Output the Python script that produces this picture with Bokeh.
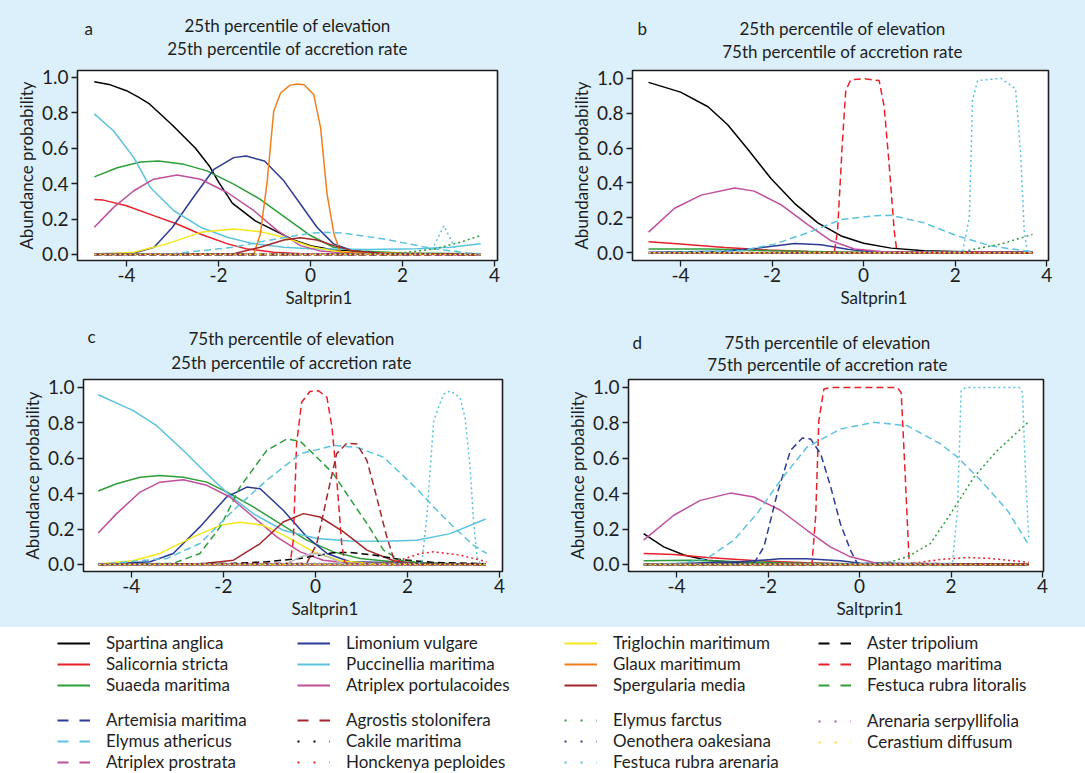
from bokeh.plotting import figure
from bokeh.models import Range1d, FixedTicker, Legend, LegendItem, NumeralTickFormatter, Title
from bokeh.layouts import column, row
from bokeh.core.properties import value
from bokeh.embed import file_html
from bokeh.resources import INLINE

# ---------------- species (draw order), colours and line types ----------------
SPECIES = ["Spartina anglica", "Salicornia stricta", "Suaeda maritima", "Limonium vulgare",
           "Puccinellia maritima", "Atriplex portulacoides", "Triglochin maritimum",
           "Glaux maritimum", "Spergularia media", "Aster tripolium", "Plantago maritima",
           "Festuca rubra litoralis", "Artemisia maritima", "Elymus athericus",
           "Atriplex prostrata", "Agrostis stolonifera", "Cakile maritima",
           "Honckenya peploides", "Elymus farctus", "Oenothera oakesiana",
           "Festuca rubra arenaria", "Arenaria serpyllifolia", "Cerastium diffusum"]
COLORS = ["#000000", "#e8202a", "#2e9e3a", "#2c3b96", "#5bc3dd", "#c04f9c", "#f5e61a",
          "#f07f1e", "#a3262a",
          "#000000", "#e8202a", "#2e9e3a", "#2c3b96", "#5bc3dd", "#c04f9c", "#a3262a",
          "#000000", "#e8202a", "#2e9e3a", "#2c3b96", "#5bc3dd", "#c04f9c", "#f5e61a"]
STYLES = ["solid"] * 9 + ["dashed"] * 7 + ["dotted"] * 7

# ---------------- panel data (Saltprin1, abundance probability) ----------------
BASE_X = [-4.7, 3.7]
BASE_Y = [0.0, 0.0]

PANEL_A = {
    "Spartina anglica": ([-4.7, -4.35, -4.0, -3.75, -3.5, -3.0, -2.5, -2.2, -2.0, -1.7, -1.2, -0.7, -0.35, 0.0, 0.5, 1.2, 2.0, 3.7],
                         [0.976, 0.958, 0.925, 0.89, 0.85, 0.73, 0.60, 0.50, 0.41, 0.29, 0.19, 0.125, 0.08, 0.05, 0.026, 0.013, 0.006, 0.002]),
    "Salicornia stricta": ([-4.7, -4.5, -4.0, -3.5, -2.9, -2.4, -1.8, -1.4, -0.8, -0.2, 1.0, 3.7],
                           [0.31, 0.307, 0.275, 0.228, 0.172, 0.116, 0.06, 0.032, 0.013, 0.004, 0.001, 0.0]),
    "Suaeda maritima": ([-4.7, -4.2, -3.7, -3.3, -2.75, -2.25, -1.67, -1.1, -0.5, 0.0, 0.5, 1.1, 2.0, 3.7],
                        [0.438, 0.49, 0.522, 0.528, 0.509, 0.472, 0.397, 0.313, 0.2, 0.107, 0.041, 0.019, 0.009, 0.004]),
    "Limonium vulgare": ([-4.7, -3.85, -3.4, -3.0, -2.55, -2.1, -1.67, -1.4, -1.0, -0.58, -0.22, 0.14, 0.5, 0.95, 1.6, 3.7],
                         [0.004, 0.007, 0.041, 0.154, 0.322, 0.481, 0.547, 0.556, 0.528, 0.416, 0.285, 0.154, 0.06, 0.019, 0.006, 0.0]),
    "Puccinellia maritima": ([-4.7, -4.28, -3.84, -3.48, -2.97, -2.39, -1.81, -1.23, -0.58, 0.0, 1.23, 2.32, 3.04, 3.7],
                             [0.794, 0.697, 0.547, 0.378, 0.247, 0.154, 0.097, 0.06, 0.041, 0.032, 0.028, 0.032, 0.041, 0.06]),
    "Atriplex portulacoides": ([-4.7, -4.28, -3.84, -3.41, -2.9, -2.39, -1.81, -1.23, -0.72, -0.22, 0.22, 0.87, 3.7],
                               [0.154, 0.266, 0.36, 0.425, 0.449, 0.425, 0.35, 0.247, 0.135, 0.05, 0.019, 0.006, 0.0]),
    "Triglochin maritimum": ([-4.7, -3.84, -3.12, -2.39, -1.67, -1.09, -0.58, 0.0, 0.51, 1.23, 3.7],
                             [0.0, 0.013, 0.06, 0.125, 0.144, 0.129, 0.097, 0.045, 0.019, 0.006, 0.0]),
    "Glaux maritimum": ([-4.7, -1.23, -1.09, -0.94, -0.8, -0.65, -0.45, -0.3, -0.14, 0.07, 0.22, 0.36, 0.51, 0.65, 3.7],
                        [0.0, 0.004, 0.116, 0.416, 0.809, 0.912, 0.955, 0.963, 0.959, 0.903, 0.715, 0.341, 0.116, 0.013, 0.0]),
    "Spergularia media": ([-4.7, -1.67, -1.09, -0.58, -0.22, 0.14, 0.51, 0.94, 1.59, 3.7],
                          [0.0, 0.004, 0.041, 0.082, 0.094, 0.082, 0.05, 0.019, 0.006, 0.0]),
    "Elymus athericus": ([-4.7, -3.0, -1.67, -0.94, 0.0, 0.3, 0.65, 1.59, 2.68, 3.41, 3.7],
                         [0.0, 0.004, 0.041, 0.079, 0.12, 0.125, 0.122, 0.088, 0.032, 0.009, 0.004]),
    "Elymus farctus": ([-4.7, 1.5, 2.0, 2.7, 3.26, 3.7],
                       [0.0, 0.0, 0.009, 0.032, 0.069, 0.107]),
    "Festuca rubra arenaria": ([-4.7, 2.6, 2.9, 3.2, 3.7],
                               [0.0, 0.004, 0.163, 0.004, 0.0]),
}

PANEL_B = {
    "Spartina anglica": ([-4.7, -4.0, -3.4, -2.97, -2.53, -2.02, -1.51, -1.0, -0.49, 0.0, 0.6, 1.32, 2.41, 3.7],
                         [0.977, 0.921, 0.837, 0.734, 0.593, 0.424, 0.283, 0.171, 0.096, 0.054, 0.026, 0.011, 0.004, 0.002]),
    "Salicornia stricta": ([-4.7, -4.0, -3.04, -2.09, -1.22, 0.0, 3.7],
                           [0.062, 0.049, 0.03, 0.015, 0.006, 0.001, 0.0]),
    "Suaeda maritima": ([-4.7, -3.4, -2.0, -0.6, 0.5, 3.7],
                        [0.021, 0.021, 0.011, 0.004, 0.001, 0.0]),
    "Limonium vulgare": ([-4.7, -3.04, -2.31, -1.51, -0.93, -0.35, 0.23, 3.7],
                         [0.002, 0.008, 0.026, 0.053, 0.045, 0.019, 0.004, 0.0]),
    "Atriplex portulacoides": ([-4.7, -4.13, -3.55, -2.82, -2.39, -1.8, -1.22, -0.71, -0.2, 0.38, 3.7],
                               [0.118, 0.255, 0.33, 0.371, 0.353, 0.274, 0.161, 0.068, 0.021, 0.006, 0.0]),
    "Plantago maritima": ([-4.7, -0.64, -0.57, -0.46, -0.39, -0.28, 0.01, 0.34, 0.45, 0.56, 0.67, 0.73, 3.7],
                          [0.0, 0.002, 0.124, 0.65, 0.93, 0.992, 0.998, 0.987, 0.837, 0.5, 0.124, 0.002, 0.0]),
    "Elymus athericus": ([-4.7, -2.68, -1.95, -1.22, -0.49, 0.23, 0.6, 1.32, 2.05, 2.78, 3.51, 3.7],
                         [0.0, 0.011, 0.049, 0.114, 0.19, 0.212, 0.214, 0.171, 0.096, 0.039, 0.011, 0.006]),
    "Elymus farctus": ([-4.7, 2.12, 2.41, 3.0, 3.69],
                       [0.0, 0.002, 0.02, 0.049, 0.105]),
    "Festuca rubra arenaria": ([-4.7, 2.16, 2.31, 2.38, 2.49, 3.0, 3.32, 3.43, 3.51, 3.58, 3.7],
                               [0.0, 0.002, 0.2, 0.874, 0.987, 1.0, 0.94, 0.574, 0.124, 0.002, 0.0]),
}

PANEL_C = {
    "Suaeda maritima": ([-4.72, -4.32, -3.81, -3.38, -2.87, -2.36, -1.86, -1.35, -0.77, -0.19, 0.39, 0.97, 1.84, 3.7],
                        [0.415, 0.456, 0.493, 0.503, 0.493, 0.465, 0.4, 0.325, 0.231, 0.137, 0.071, 0.034, 0.011, 0.0]),
    "Limonium vulgare": ([-4.72, -3.59, -3.09, -2.51, -1.93, -1.49, -1.2, -0.7, -0.19, 0.25, 0.75, 3.7],
                         [0.0, 0.015, 0.062, 0.212, 0.381, 0.437, 0.428, 0.306, 0.156, 0.062, 0.015, 0.0]),
    "Puccinellia maritima": ([-4.72, -3.96, -3.45, -2.87, -2.36, -1.86, -1.35, -0.7, 0.03, 0.75, 1.48, 2.2, 2.93, 3.7],
                             [0.959, 0.869, 0.784, 0.644, 0.512, 0.39, 0.287, 0.193, 0.146, 0.133, 0.131, 0.137, 0.174, 0.257]),
    "Atriplex portulacoides": ([-4.72, -4.32, -3.81, -3.38, -2.87, -2.36, -1.86, -1.35, -0.84, -0.33, 0.17, 0.75, 3.7],
                               [0.178, 0.287, 0.409, 0.465, 0.478, 0.447, 0.381, 0.268, 0.156, 0.071, 0.024, 0.006, 0.0]),
    "Triglochin maritimum": ([-4.72, -3.96, -3.38, -2.65, -2.07, -1.64, -1.13, -0.62, -0.04, 0.54, 1.12, 3.7],
                             [0.002, 0.021, 0.062, 0.156, 0.221, 0.238, 0.221, 0.156, 0.071, 0.021, 0.006, 0.0]),
    "Spergularia media": ([-4.72, -2.51, -1.78, -1.2, -0.7, -0.26, 0.1, 0.61, 1.12, 1.7, 2.2, 3.7],
                          [0.0, 0.002, 0.024, 0.118, 0.24, 0.287, 0.268, 0.184, 0.081, 0.021, 0.006, 0.0]),
    "Aster tripolium": ([-4.72, -1.78, -1.06, -0.33, 0.39, 0.75, 1.26, 1.84, 2.57, 3.7],
                        [0.0, 0.006, 0.015, 0.034, 0.066, 0.068, 0.053, 0.028, 0.011, 0.004]),
    "Plantago maritima": ([-4.72, -0.55, -0.48, -0.41, -0.3, -0.12, 0.07, 0.25, 0.36, 0.46, 0.57, 0.64, 3.7],
                          [0.0, 0.006, 0.137, 0.681, 0.916, 0.977, 0.981, 0.944, 0.775, 0.493, 0.118, 0.006, 0.0]),
    "Festuca rubra litoralis": ([-4.72, -3.09, -2.51, -2.07, -1.64, -1.06, -0.62, -0.33, 0.03, 0.39, 0.75, 1.12, 1.48, 1.84, 2.42, 3.7],
                                [0.0, 0.006, 0.062, 0.212, 0.437, 0.644, 0.709, 0.696, 0.606, 0.512, 0.371, 0.231, 0.081, 0.024, 0.006, 0.0]),
    "Elymus athericus": ([-4.72, -3.23, -2.51, -1.78, -1.06, -0.33, 0.39, 0.9, 1.48, 2.2, 2.57, 3.0, 3.43, 3.72],
                         [0.0, 0.034, 0.118, 0.306, 0.475, 0.625, 0.672, 0.662, 0.606, 0.428, 0.325, 0.212, 0.109, 0.062]),
    "Agrostis stolonifera": ([-4.72, -0.19, 0.03, 0.25, 0.46, 0.68, 0.9, 1.12, 1.33, 1.55, 1.7, 1.84, 3.7],
                             [0.0, 0.006, 0.118, 0.381, 0.625, 0.685, 0.681, 0.587, 0.381, 0.156, 0.034, 0.002, 0.0]),
    "Honckenya peploides": ([-4.72, 1.48, 1.84, 2.28, 2.57, 3.14, 3.72],
                            [0.0, 0.006, 0.024, 0.062, 0.071, 0.053, 0.015]),
    "Festuca rubra arenaria": ([-4.72, 2.31, 2.42, 2.57, 2.78, 2.93, 3.14, 3.25, 3.36, 3.43, 3.51, 3.58, 3.7],
                               [0.0, 0.006, 0.268, 0.812, 0.962, 0.981, 0.944, 0.831, 0.55, 0.268, 0.043, 0.006, 0.0]),
}
# light grey curve in panel c that has no legend entry
PANEL_C_GREY_X = [-0.6, -0.35, -0.1, 0.05, 0.3, 0.6]
PANEL_C_GREY_Y = [0.004, 0.04, 0.06, 0.062, 0.04, 0.004]

PANEL_D = {
    "Spartina anglica": ([-4.72, -4.28, -3.84, -3.33, -2.6, -1.15, 0.0, 3.7],
                         [0.174, 0.099, 0.053, 0.024, 0.009, 0.002, 0.001, 0.0]),
    "Salicornia stricta": ([-4.72, -4.06, -3.33, -2.24, -1.15, 0.0, 3.7],
                           [0.062, 0.056, 0.039, 0.021, 0.009, 0.002, 0.0]),
    "Suaeda maritima": ([-4.72, -3.7, -2.6, -1.15, 0.0, 3.7],
                        [0.021, 0.024, 0.015, 0.006, 0.001, 0.0]),
    "Limonium vulgare": ([-4.72, -2.6, -1.73, -1.15, -0.42, 0.02, 3.7],
                         [0.0, 0.015, 0.032, 0.032, 0.021, 0.006, 0.0]),
    "Atriplex portulacoides": ([-4.72, -4.06, -3.48, -2.82, -2.31, -1.73, -1.15, -0.64, -0.2, 0.31, 1.04, 3.7],
                               [0.137, 0.278, 0.362, 0.403, 0.381, 0.306, 0.193, 0.099, 0.043, 0.011, 0.002, 0.0]),
    "Plantago maritima": ([-4.72, -1.04, -0.96, -0.89, -0.78, -0.63, 0.82, 0.91, 1.0, 1.08, 1.12, 3.7],
                          [0.0, 0.006, 0.268, 0.812, 0.991, 1.0, 1.0, 0.972, 0.493, 0.034, 0.006, 0.0]),
    "Artemisia maritima": ([-4.72, -2.31, -2.09, -1.8, -1.51, -1.25, -1.07, -0.85, -0.63, -0.42, -0.2, -0.05, 3.7],
                           [0.0, 0.006, 0.099, 0.4, 0.644, 0.715, 0.709, 0.625, 0.437, 0.231, 0.081, 0.006, 0.0]),
    "Elymus athericus": ([-4.72, -3.9, -3.33, -2.75, -2.24, -1.73, -1.15, -0.42, 0.31, 1.04, 1.77, 2.14, 2.65, 3.23, 3.7],
                         [0.0, 0.006, 0.034, 0.137, 0.287, 0.475, 0.662, 0.765, 0.803, 0.784, 0.681, 0.606, 0.475, 0.306, 0.109]),
    "Honckenya peploides": ([-4.72, 1.04, 1.77, 2.35, 2.86, 3.7],
                            [0.0, 0.002, 0.028, 0.039, 0.034, 0.011]),
    "Elymus farctus": ([-4.72, 0.3, 0.68, 1.04, 1.55, 1.99, 2.5, 3.01, 3.7],
                       [0.0, 0.004, 0.015, 0.043, 0.118, 0.287, 0.493, 0.644, 0.807]),
    "Festuca rubra arenaria": ([-4.72, 2.03, 2.14, 2.22, 2.32, 3.49, 3.56, 3.63, 3.7],
                               [0.0, 0.006, 0.306, 0.981, 1.0, 1.0, 0.972, 0.493, 0.137]),
}

X_TICKS = [-4, -2, 0, 2, 4]
Y_TICKS = [0.0, 0.2, 0.4, 0.6, 0.8, 1.0]
ELEV = {"a": "25th", "b": "25th", "c": "75th", "d": "75th"}
ACCR = {"a": "25th", "b": "75th", "c": "25th", "d": "75th"}
X_LABEL = "Saltprin1"
Y_LABEL = "Abundance probability"

# ---------------- styling ----------------
BG = "#dcf0fb"
FONT = "Lato"
INK = "#1e1e1e"
PLOT_DASH = {"solid": "solid", "dashed": "7 4", "dotted": "2 3"}
KEY_DASH = {"solid": "solid", "dashed": "11 11", "dotted": "2 14"}


def make_header(letter, w, h, letter_pos, t1_pos, t2_pos):
    hd = figure(width=w, height=h, output_backend="svg", toolbar_location=None,
                x_range=Range1d(0, w), y_range=Range1d(h, 0), x_axis_type=None, y_axis_type=None,
                min_border_left=0, min_border_right=0, min_border_top=0, min_border_bottom=0)
    hd.grid.visible = False
    hd.outline_line_color = None
    hd.background_fill_color = BG
    hd.border_fill_color = BG
    hd.text(x=[letter_pos[0]], y=[letter_pos[1]], text=[letter], text_font=value(FONT),
            text_font_size="17px", text_color=INK, text_align="left", text_baseline="middle")
    hd.text(x=[t1_pos[0], t2_pos[0]], y=[t1_pos[1], t2_pos[1]],
            text=[f"{ELEV[letter]} percentile of elevation",
                  f"{ACCR[letter]} percentile of accretion rate"],
            text_font=value(FONT), text_font_size="17px", text_color=INK,
            text_align="center", text_baseline="middle")
    return hd


def make_panel(data, w, h, borders, xr, yr, extra=None):
    bl, br, bt, bb = borders
    p = figure(width=w, height=h, output_backend="svg", toolbar_location=None,
               x_range=Range1d(*xr), y_range=Range1d(*yr),
               min_border_left=bl, min_border_right=br, min_border_top=bt, min_border_bottom=bb)
    p.background_fill_color = "white"
    p.border_fill_color = BG
    p.outline_line_color = INK
    p.outline_line_width = 1.6
    p.grid.visible = False

    for ax in (p.xaxis[0], p.yaxis[0]):
        ax.axis_line_color = None
        ax.major_tick_line_color = INK
        ax.major_tick_line_width = 1.3
        ax.major_tick_out = 6
        ax.major_tick_in = 0
        ax.minor_tick_line_color = None
        ax.major_label_text_font = FONT
        ax.major_label_text_font_size = "19px"
        ax.major_label_text_color = INK
        ax.axis_label_text_font = FONT
        ax.axis_label_text_font_size = "17px"
        ax.axis_label_text_font_style = "normal"
        ax.axis_label_text_color = INK
    p.xaxis.ticker = FixedTicker(ticks=X_TICKS)
    p.xaxis.formatter = NumeralTickFormatter(format="0")
    p.xaxis.major_label_standoff = 1
    p.yaxis.ticker = FixedTicker(ticks=Y_TICKS)
    p.yaxis.formatter = NumeralTickFormatter(format="0.0")
    p.yaxis.axis_label = Y_LABEL
    p.yaxis.major_label_standoff = 3
    p.yaxis.axis_label_standoff = 2
    # x-axis title sits right of the frame centre, as in the reference
    p.add_layout(Title(text=X_LABEL, align="left", offset=208, standoff=0,
                       text_font=FONT, text_font_size="17px", text_font_style="normal",
                       text_color=INK), "below")

    for name, col, sty in zip(SPECIES, COLORS, STYLES):
        xs, ys = data.get(name, (BASE_X, BASE_Y))
        p.line(x=xs, y=ys, line_color=col, line_width=1.5, line_dash=PLOT_DASH[sty])
    if extra is not None:
        p.line(x=extra[0], y=extra[1], line_color="#b8b8b8", line_width=1.5)
    return p


ha = make_header("a", 545, 62, (84, 28), (287, 25), (287, 48))
hb = make_header("b", 540, 62, (92, 28), (297, 28), (297, 51))
hc = make_header("c", 545, 65, (87, 26), (291, 28), (291, 52))
hdd = make_header("d", 540, 65, (87, 32), (282, 32), (282, 54))

pa = make_panel(PANEL_A, 545, 248, (77, 48, 7, 50), (-5.065, 4.065), (-0.034, 1.039))
pb = make_panel(PANEL_B, 540, 248, (87, 37, 8, 47), (-5.05, 4.04), (-0.045, 1.045))
pc = make_panel(PANEL_C, 545, 252, (83, 43, 4, 56), (-5.04, 4.065), (-0.04, 1.045),
                extra=(PANEL_C_GREY_X, PANEL_C_GREY_Y))
pd = make_panel(PANEL_D, 540, 252, (83, 42, 4, 56), (-5.05, 4.02), (-0.04, 1.045))

# ---------------- legend strip ----------------
LG_H = 146
lg = figure(width=1085, height=LG_H, output_backend="svg", toolbar_location=None,
            x_range=Range1d(0, 1), y_range=Range1d(0, 1), x_axis_type=None, y_axis_type=None,
            min_border_left=0, min_border_right=0, min_border_top=0, min_border_bottom=0)
lg.grid.visible = False
lg.outline_line_color = None
lg.background_fill_color = "white"
lg.border_fill_color = "white"

LEGEND_COLUMNS = [
    (["Spartina anglica", "Salicornia stricta", "Suaeda maritima"], 57, 78),
    (["Limonium vulgare", "Puccinellia maritima", "Atriplex portulacoides"], 297, 78),
    (["Triglochin maritimum", "Glaux maritimum", "Spergularia media"], 564, 78),
    (["Aster tripolium", "Plantago maritima", "Festuca rubra litoralis"], 818, 78),
    (["Artemisia maritima", "Elymus athericus", "Atriplex prostrata"], 57, 1),
    (["Agrostis stolonifera", "Cakile maritima", "Honckenya peploides"], 297, 1),
    (["Elymus farctus", "Oenothera oakesiana", "Festuca rubra arenaria"], 564, 1),
    (["Arenaria serpyllifolia", "Cerastium diffusum"], 818, 21),
]
NAN = float("nan")
for names, vx, vy in LEGEND_COLUMNS:
    items = []
    for nm in names:
        i = SPECIES.index(nm)
        r = lg.line(x=[NAN, NAN], y=[NAN, NAN], line_color=COLORS[i], line_width=2,
                    line_dash=KEY_DASH[STYLES[i]])
        items.append(LegendItem(label=nm, renderers=[r]))
    leg = Legend(items=items, location=(vx, vy), orientation="vertical",
                 glyph_width=33, glyph_height=20, label_height=20, label_width=10,
                 label_standoff=16, spacing=0, padding=0, margin=0,
                 border_line_color=None, background_fill_alpha=0,
                 label_text_font=FONT, label_text_font_size="17px", label_text_color=INK,
                 label_text_baseline="middle")
    lg.add_layout(leg)

top = column(row(ha, hb), row(pa, pb), styles={"background-color": BG})
bottom = column(row(hc, hdd), row(pc, pd), styles={"background-color": BG})
layout = column(top, bottom, lg)
open("out.html", "w").write(file_html(layout, INLINE))
